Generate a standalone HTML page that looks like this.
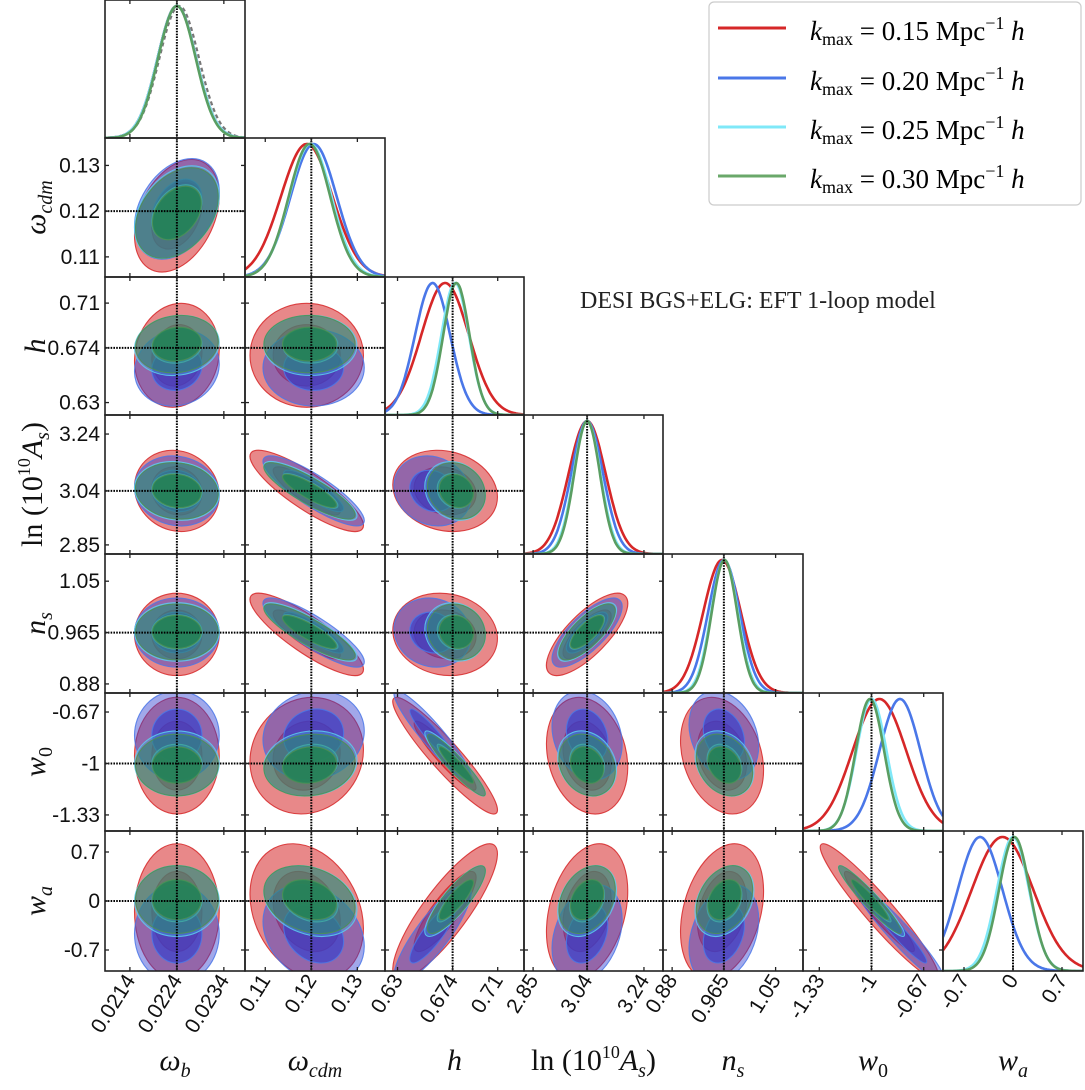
<!DOCTYPE html>
<html><head><meta charset="utf-8"><style>
html,body{margin:0;padding:0;background:#fff;}
svg{display:block;font-family:"Liberation Sans",sans-serif;}
.mt{font-family:"Liberation Serif",serif;}
</style></head><body>
<svg id="chart" width="1085" height="1090" viewBox="0 0 1085 1090" xmlns="http://www.w3.org/2000/svg">
<g id="panels"></g>
<g>
<rect x="709" y="2" width="372" height="203" rx="5" fill="#fff" stroke="#ccc" stroke-width="1.2"/>
<g><line x1="718" y1="28" x2="786" y2="28" stroke="#d62728" stroke-width="3"/><text x="810" y="40" class="mt" font-size="27"><tspan font-style="italic">k</tspan><tspan font-size="18" dy="5">max</tspan><tspan dy="-5"> = 0.15 Mpc</tspan><tspan font-size="18" dy="-11">−1</tspan><tspan dy="11" font-style="italic"> h</tspan></text></g>
<g><line x1="718" y1="78" x2="786" y2="78" stroke="#4a77e8" stroke-width="3"/><text x="810" y="90" class="mt" font-size="27"><tspan font-style="italic">k</tspan><tspan font-size="18" dy="5">max</tspan><tspan dy="-5"> = 0.20 Mpc</tspan><tspan font-size="18" dy="-11">−1</tspan><tspan dy="11" font-style="italic"> h</tspan></text></g>
<g><line x1="718" y1="127" x2="786" y2="127" stroke="#7fe8f8" stroke-width="3"/><text x="810" y="139" class="mt" font-size="27"><tspan font-style="italic">k</tspan><tspan font-size="18" dy="5">max</tspan><tspan dy="-5"> = 0.25 Mpc</tspan><tspan font-size="18" dy="-11">−1</tspan><tspan dy="11" font-style="italic"> h</tspan></text></g>
<g><line x1="718" y1="176" x2="786" y2="176" stroke="#6aa86a" stroke-width="3"/><text x="810" y="188" class="mt" font-size="27"><tspan font-style="italic">k</tspan><tspan font-size="18" dy="5">max</tspan><tspan dy="-5"> = 0.30 Mpc</tspan><tspan font-size="18" dy="-11">−1</tspan><tspan dy="11" font-style="italic"> h</tspan></text></g>
</g>
<text x="580" y="308" class="mt" font-size="24" fill="#222">DESI BGS+ELG: EFT 1-loop model</text>
</svg>
<script>
const params = ['wb','wcdm','h','lnAs','ns','w0','wa'];
const rangeMin = [0.02087, 0.1056, 0.620, 2.818, 0.865, -1.433, -1.0];
const rangeMax = [0.02385, 0.1360, 0.731, 3.307, 1.095, -0.548, 1.0];
const truth = [0.0224, 0.12, 0.674, 3.04, 0.965, -1, 0];
const ticks = [[0.0214,0.0224,0.0234],[0.11,0.12,0.13],[0.63,0.674,0.71],[2.85,3.04,3.24],[0.88,0.965,1.05],[-1.33,-1,-0.67],[-0.7,0,0.7]];
const tickLabels = [['0.0214','0.0224','0.0234'],['0.11','0.12','0.13'],['0.63','0.674','0.71'],['2.85','3.04','3.24'],['0.88','0.965','1.05'],['-1.33','-1','-0.67'],['-0.7','0','0.7']];
const seriesNames = ['k015','k020','k025','k030'];
const meanRed   = [0.0224, 0.1190, 0.668, 3.040, 0.962, -0.95, -0.15];
const meanBlue  = [0.0224, 0.1205, 0.658, 3.040, 0.965, -0.82, -0.47];
const meanCyan  = [0.0224, 0.1198, 0.676, 3.040, 0.966, -1.00, 0.00];
const meanGreen = [0.0224, 0.1196, 0.677, 3.040, 0.966, -1.01, 0.02];
const sigRed    = [0.00041, 0.0056, 0.019, 0.065, 0.031, 0.17, 0.44];
const sigBlue   = [0.00041, 0.0050, 0.014, 0.056, 0.026, 0.13, 0.32];
const sigCyan   = [0.00041, 0.0046, 0.011, 0.047, 0.022, 0.095, 0.23];
const sigGreen  = [0.00040, 0.0045, 0.0105, 0.045, 0.021, 0.09, 0.22];
const corrWb   = [1, 0.35, 0.1, -0.1, 0, 0, 0];
const corrWcdm = [0.35, 1, 0, -0.85, -0.85, 0.1, -0.25];
const corrH    = [0.1, 0, 1, -0.15, -0.1, -0.93, 0.85];
const corrLnAs = [-0.1, -0.85, -0.15, 1, 0.75, -0.2, 0.3];
const corrNs   = [0, -0.85, -0.1, 0.75, 1, -0.25, 0.3];
const corrW0   = [0, 0.1, -0.93, -0.2, -0.25, 1, -0.95];
const corrWa   = [0, -0.25, 0.85, 0.3, 0.3, -0.95, 1];
const priorMeanWb = 0.02245, priorSigWb = 0.00042;

const means=[meanRed,meanBlue,meanCyan,meanGreen];
const sigs=[sigRed,sigBlue,sigCyan,sigGreen];
const corr=[corrWb,corrWcdm,corrH,corrLnAs,corrNs,corrW0,corrWa];
const lineCol=['#d62728','#4a77e8','#7fe8f8','#5a9e62'];
const edgeCol=['#d62728','#4a77e8','#5ccfef','#4c8f52'];
const fillCol=['#d62728','#2f3fd0','#3fa9e6','#237f4c'];
const outerOp=[0.55,0.45,0.4,0.45];
const innerOp=[0.6,0.65,0.5,0.8];
const colX=[105,245,385,524,663,803,943,1083];
const rowY=[0,138,277,415,554,693,831,971];
const NS='http://www.w3.org/2000/svg';
const root=document.getElementById('panels');
function mk(tag,attrs,parent){const e=document.createElementNS(NS,tag);for(const k in attrs)e.setAttribute(k,attrs[k]);(parent||root).appendChild(e);return e;}
function sx(p,v,c){return colX[c]+(v-rangeMin[p])/(rangeMax[p]-rangeMin[p])*(colX[c+1]-colX[c]);}
function sy(p,v,r){return rowY[r+1]-(v-rangeMin[p])/(rangeMax[p]-rangeMin[p])*(rowY[r+1]-rowY[r]);}
const defs=mk('defs',{});
const DOT={stroke:'#000','stroke-width':2,'stroke-dasharray':'1.6,1.2'};
for(let r=0;r<7;r++){
  for(let c=0;c<=r;c++){
    const x0=colX[c],x1=colX[c+1],y0=rowY[r],y1=rowY[r+1];
    const cp=mk('clipPath',{id:'cl'+r+'_'+c},defs);
    mk('rect',{x:x0,y:y0,width:x1-x0,height:y1-y0},cp);
    const g=mk('g',{'clip-path':'url(#cl'+r+'_'+c+')'});
    
    
    if(r===c){
      const p=c;
      const pdf=(v,m,s)=>Math.exp(-0.5*((v-m)/s)**2);
      const drawCurve=(m,s,col,dash,w)=>{
        let d='';
        for(let k=0;k<=140;k++){const v=rangeMin[p]+(rangeMax[p]-rangeMin[p])*k/140;
          const X=sx(p,v,c),Y=y1-pdf(v,m,s)*(y1-y0-6);d+=(k?'L':'M')+X.toFixed(1)+','+Y.toFixed(1);}
        return mk('path',{d:d,fill:'none',stroke:col,'stroke-width':w,'stroke-dasharray':dash||'none'},g);
      };
      if(p===0){const pr=drawCurve(priorMeanWb,priorSigWb,'#777','4,3',2.2);
        
        }
      for(let s=0;s<4;s++){const cu=drawCurve(means[s][p],sigs[s][p],lineCol[s],null,2.6);
        
        }
      const tx=sx(p,truth[p],c);
      mk('line',Object.assign({x1:tx,x2:tx,y1:y0,y2:y1},DOT),g);
    } else {
      const px=c,py=r;
      for(let s=0;s<4;s++){
        const kx=(colX[c+1]-colX[c])/(rangeMax[px]-rangeMin[px]);
        const ky=(rowY[r+1]-rowY[r])/(rangeMax[py]-rangeMin[py]);
        const a=sigs[s][px]*kx, b=sigs[s][py]*ky, rho=-corr[py][px];
        const cxx=a*a, cyy=b*b, cxy=rho*a*b;
        const tr=(cxx+cyy)/2, det=Math.sqrt(((cxx-cyy)/2)**2+cxy*cxy);
        const l1=tr+det,l2=Math.max(tr-det,0.01);
        let ang;
        if(Math.abs(cxy)<1e-9){ang = cxx>=cyy?0:90;}
        else ang=Math.atan2(l1-cxx,cxy)*180/Math.PI;
        const cx=sx(px,means[s][px],c), cy=sy(py,means[s][py],r);
        [[2.2,outerOp[s]],[1.3,innerOp[s]]].forEach(([k,op],i)=>{
          const e=mk('ellipse',{cx:cx,cy:cy,rx:(Math.sqrt(l1)*k).toFixed(2),ry:(Math.sqrt(l2)*k).toFixed(2),
            transform:'rotate('+ang.toFixed(2)+' '+cx.toFixed(2)+' '+cy.toFixed(2)+')',
            fill:fillCol[s],'fill-opacity':op,stroke:edgeCol[s],'stroke-opacity':0.85,'stroke-width':1.1},g);
          
          
        });
      }
      const tx=sx(px,truth[px],c), ty=sy(py,truth[py],r);
      mk('line',Object.assign({x1:tx,x2:tx,y1:y0,y2:y1},DOT),g);
      mk('line',Object.assign({x1:x0,x2:x1,y1:ty,y2:ty},DOT),g);
    }
    const fr=mk('rect',{x:x0,y:y0,width:x1-x0,height:y1-y0,fill:'none',stroke:'#222','stroke-width':1.6});
    
    
    ticks[c].forEach(v=>{const X=sx(c,v,c);mk('line',{x1:X,x2:X,y1:y1,y2:y1-4,stroke:'#222','stroke-width':1.3});mk('line',{x1:X,x2:X,y1:y0,y2:y0+4,stroke:'#222','stroke-width':1.3});});
    if(r!==c) ticks[r].forEach(v=>{const Y=sy(r,v,r);mk('line',{x1:x0,x2:x0+4,y1:Y,y2:Y,stroke:'#222','stroke-width':1.3});mk('line',{x1:x1,x2:x1-4,y1:Y,y2:Y,stroke:'#222','stroke-width':1.3});});
  }
}
for(let r=1;r<7;r++){
  ticks[r].forEach((v,i)=>{const t=mk('text',{x:100,y:sy(r,v,r)+7,'text-anchor':'end','font-size':21,fill:'#111'});t.textContent=tickLabels[r][i];
    
    });
}
for(let c=0;c<7;c++){
  ticks[c].forEach((v,i)=>{const X=sx(c,v,c)+6,Y=980;
    const t=mk('text',{x:X,y:Y,'text-anchor':'end','font-size':21,fill:'#111',transform:'rotate(-58 '+X+' '+Y+')'});t.textContent=tickLabels[c][i];
    
    });
}
const labHTML=['<tspan font-style="italic">ω</tspan><tspan font-style="italic" font-size="20" dy="7">b</tspan>',
'<tspan font-style="italic">ω</tspan><tspan font-style="italic" font-size="20" dy="7">cdm</tspan>',
'<tspan font-style="italic">h</tspan>',
'ln (10<tspan font-size="18" dy="-12">10</tspan><tspan dy="12" font-style="italic">A</tspan><tspan font-style="italic" font-size="20" dy="7">s</tspan><tspan dy="-7">)</tspan>',
'<tspan font-style="italic">n</tspan><tspan font-style="italic" font-size="20" dy="7">s</tspan>',
'<tspan font-style="italic">w</tspan><tspan font-size="20" dy="7">0</tspan>',
'<tspan font-style="italic">w</tspan><tspan font-style="italic" font-size="20" dy="7">a</tspan>'];
for(let c=0;c<7;c++){
  const t=mk('text',{x:(colX[c]+colX[c+1])/2,y:1070,'text-anchor':'middle','font-size':30,class:'mt',fill:'#111'});t.innerHTML=labHTML[c];
  
  
}
for(let r=1;r<7;r++){
  const Y=(rowY[r]+rowY[r+1])/2, X=r===3?42:45;
  const t=mk('text',{x:X,y:Y,'text-anchor':'middle','font-size':30,class:'mt',fill:'#111',transform:'rotate(-90 '+X+' '+Y+')'});t.innerHTML=labHTML[r];
  
  
}
</script>
</body></html>
